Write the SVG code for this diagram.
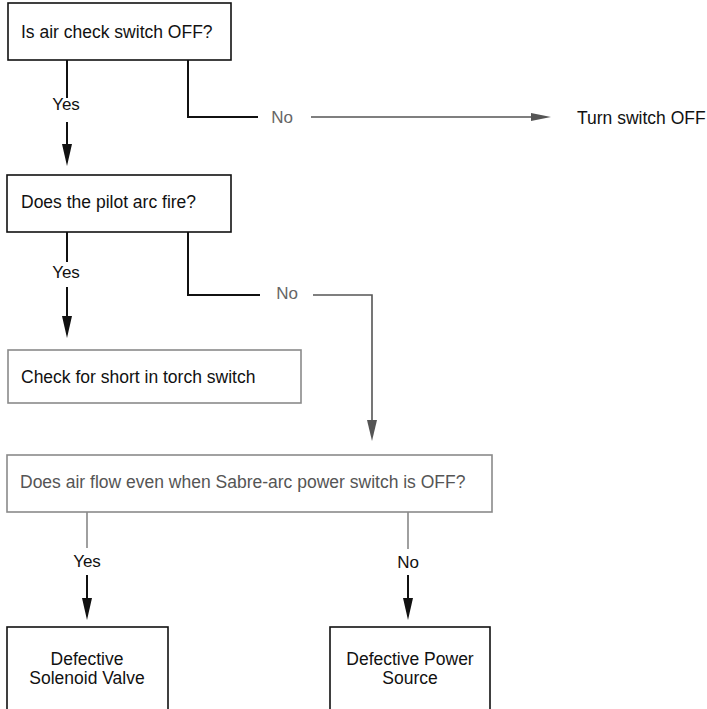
<svg xmlns="http://www.w3.org/2000/svg" width="707" height="709" viewBox="0 0 707 709">
<defs>
<style>
text{font-family:"Liberation Sans",Arial,sans-serif;font-size:17.5px;fill:#111}
.lbl{font-size:17px;text-anchor:middle}
.gt{fill:#666}
.bk{fill:none;stroke:#111;stroke-width:2}
.gr{fill:none;stroke:#888;stroke-width:1.6}
.box{fill:#fff;stroke:#111;stroke-width:1.6}
.gbox{fill:#fff;stroke:#8a8a8a;stroke-width:1.6}
.hb{fill:#111}
.hg{fill:#555}
</style>
</defs>
<rect width="707" height="709" fill="#fff"/>
<g id="connectors">
<line class="bk" x1="67" y1="60" x2="67" y2="98"/>
<line class="bk" x1="67" y1="122" x2="67" y2="148"/>
<path class="hb" d="M62,144 L72,144 L67,166 Z"/>
<polyline class="bk" points="188,60 188,117 258,117"/>
<line stroke="#555" stroke-width="1.5" x1="311" y1="117" x2="535" y2="117"/>
<path class="hg" d="M531,113 L551,117 L531,121 Z"/>
<line class="bk" x1="67" y1="232" x2="67" y2="262"/>
<line class="bk" x1="67" y1="287" x2="67" y2="320"/>
<path class="hb" d="M62,316 L72,316 L67,338 Z"/>
<polyline class="bk" points="188,232 188,295 260,295"/>
<polyline fill="none" stroke="#555" stroke-width="1.6" points="313,295 372,295 372,424"/>
<path class="hg" d="M367,420 L377,420 L372,441 Z"/>
<line class="gr" x1="87" y1="512" x2="87" y2="548"/>
<line class="bk" x1="87" y1="575" x2="87" y2="602"/>
<path class="hb" d="M82,598 L92,598 L87,620 Z"/>
<line class="gr" x1="408" y1="512" x2="408" y2="549"/>
<line class="bk" x1="408" y1="575" x2="408" y2="602"/>
<path class="hb" d="M403,598 L413,598 L408,620 Z"/>
</g>
<g id="labels">
<text class="lbl" x="66" y="110">Yes</text>
<text class="lbl gt" x="282" y="123">No</text>
<text class="lbl" x="66" y="278">Yes</text>
<text class="lbl gt" x="287" y="299">No</text>
<text class="lbl" x="87" y="567">Yes</text>
<text class="lbl" x="408" y="568">No</text>
</g>
<g id="n1">
<rect class="box" x="8" y="3" width="223" height="57"/>
<text x="21" y="38">Is air check switch OFF?</text>
</g>
<g id="n_turn">
<text x="577" y="124">Turn switch OFF</text>
</g>
<g id="n2">
<rect class="box" x="7" y="175" width="224" height="57"/>
<text x="21" y="208">Does the pilot arc fire?</text>
</g>
<g id="n3">
<rect class="gbox" x="8" y="350" width="293" height="53"/>
<text x="21" y="383">Check for short in torch switch</text>
</g>
<g id="n4">
<rect class="gbox" x="7" y="455" width="485" height="57"/>
<text x="20" y="488" style="fill:#555">Does air flow even when Sabre-arc power switch is OFF?</text>
</g>
<g id="n5">
<rect class="box" x="7" y="627" width="161" height="90"/>
<text x="87" y="665" text-anchor="middle">Defective</text>
<text x="87" y="684" text-anchor="middle">Solenoid Valve</text>
</g>
<g id="n6">
<rect class="box" x="330" y="627" width="160" height="90"/>
<text x="410" y="665" text-anchor="middle">Defective Power</text>
<text x="410" y="684" text-anchor="middle">Source</text>
</g>
</svg>
